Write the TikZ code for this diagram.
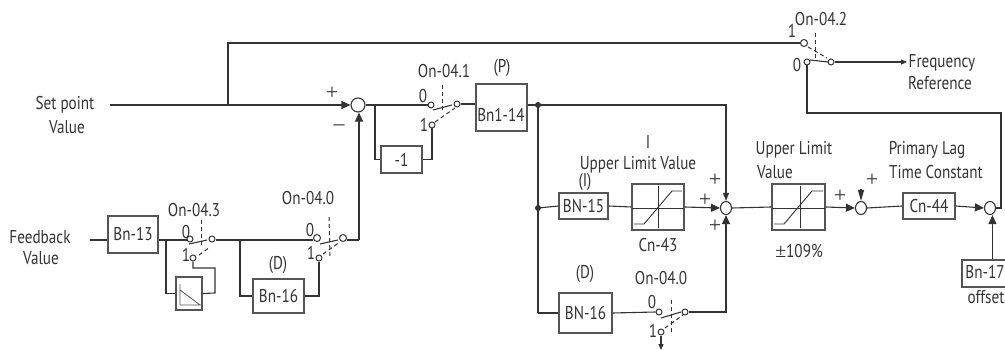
\documentclass[tikz,border=0pt]{standalone}
\usepackage{fontspec}
\setmainfont[FakeStretch=0.82]{PT Sans}
\newfontfamily\sgnfont{Liberation Serif}
\usetikzlibrary{arrows.meta,shapes.geometric,calc}
\definecolor{ink}{HTML}{333333}
\definecolor{boxc}{HTML}{555555}
\tikzset{
  wire/.style={draw=ink,line width=1.1pt},
  flow/.style={wire,-{Triangle[length=9pt,width=8pt]}},
  flowmid/.style={wire,-{Triangle[length=8pt,width=6pt]}},
  flowsmall/.style={wire,-{Triangle[length=6pt,width=5pt]}},
  blockbox/.style={draw=boxc,line width=1.1pt,fill=white,inner sep=0pt,text=ink,font=\fontsize{18.5}{18.5}\selectfont},
  contact/.style={circle,draw=ink,line width=1pt,fill=white,inner sep=0pt,minimum size=6pt},
  sumnode/.style={ellipse,draw=ink,line width=1.1pt,fill=white,inner sep=0pt,minimum width=11pt,minimum height=13pt},
  lab/.style={text=ink,inner sep=0pt,font=\fontsize{18.5}{18.5}\selectfont},
  sgn/.style={text=ink,inner sep=0pt,font=\sgnfont\fontsize{22}{22}\selectfont},
  arm/.style={draw=ink,line width=1.1pt},
  ctrl/.style={draw=ink,line width=1pt,dash pattern=on 4pt off 3pt},
  inner/.style={draw=ink,line width=0.9pt},
  innerlight/.style={draw=boxc,line width=0.8pt}
}
\begin{document}
\begin{tikzpicture}[x=1pt,y=-1pt]
\useasboundingbox (0,0) rectangle (1005,350);
\clip (0,0) rectangle (1005,350);
% labels
\node[lab] (lsp1) at (65,105) {Set point};
\node[lab] (lsp2) at (67,127) {Value};
\node[lab] (lfb1) at (40,237) {Feedback};
\node[lab] (lfb2) at (41,258) {Value};
\node[lab] (l041) at (444,71) {On-04.1};
\node[lab] (lP) at (502,68) {(P)};
\node[lab] (l043) at (194,210) {On-04.3};
\node[lab] (l040a) at (308,198) {On-04.0};
\node[lab] (lDa) at (278,265) {(D)};
\node[lab] (lI) at (648,142) {I};
\node[lab] (lulv) at (638,165) {Upper Limit Value};
\node[lab] (lIb) at (585,182) {(I)};
\node[lab] (lcn43) at (658,245) {Cn-43};
\node[lab] (lDb) at (585,274) {(D)};
\node[lab] (l040b) at (661,278) {On-04.0};
\node[lab] (lul1) at (794,150) {Upper Limit};
\node[lab] (lul2) at (775,172) {Value};
\node[lab] (lpl1) at (927,150) {Primary Lag};
\node[lab] (lpl2) at (936,172) {Time Constant};
\node[lab] (l109) at (799,251) {{\sgnfont\fontsize{20}{20}\selectfont ±}109\%};
\node[lab] (l042) at (821,19) {On-04.2};
\node[lab] (lfr1) at (942,63) {Frequency};
\node[lab] (lfr2) at (940,83) {Reference};
\node[lab] (loff) at (986,297) {offset};
% contact digits
\node[lab] (d0a) at (423,96) {0};
\node[lab] (d1a) at (424,125) {1};
\node[lab] (d0b) at (186,232) {0};
\node[lab] (d1b) at (186,255) {1};
\node[lab] (d0c) at (310,230) {0};
\node[lab] (d1c) at (311,253) {1};
\node[lab] (d0d) at (652,302) {0};
\node[lab] (d1d) at (653,331) {1};
\node[lab] (d1e) at (792,31) {1};
\node[lab] (d0e) at (797,65) {0};
% signs
\node[sgn] (p1) at (332,93) {+};
\node[sgn] (m1) at (339,128) {–};
\node[sgn] (p2) at (715,180) {+};
\node[sgn] (p3) at (705,200) {+};
\node[sgn] (p4) at (715,226) {+};
\node[sgn] (p5) at (840,196) {+};
\node[sgn] (p6) at (872,180) {+};
% blocks
\newcommand{\blk}[6]{\node[blockbox,minimum width=#4 pt-#2 pt,minimum height=#5 pt-#3 pt] (#1) at ({(#2+#4)/2},{(#3+#5)/2}) {#6};}
\blk{bn13}{108}{216}{158}{253}{Bn-13}
\blk{bn16a}{253}{279}{304}{313}{Bn-16}
\blk{neg}{381}{146}{422}{173}{-1}
\blk{bn14}{476}{84}{527}{131}{}
\node[lab] (tbn14) at (501,115) {Bn1-14};
\blk{bn15}{559}{193}{608}{219}{BN-15}
\blk{bn16b}{559}{293}{612}{333}{BN-16}
\blk{lim1}{632}{184}{684}{230}{}
\blk{lim2}{772}{184}{825}{230}{}
\blk{cn44}{903}{193}{955}{219}{Cn-44}
\blk{bn17}{962}{260}{1012}{287}{}
\node[lab] (tbn17) at (985,272) {Bn-17};
\blk{icon}{176}{277}{202}{310}{}
% sums
\node[sumnode,minimum width=14pt,minimum height=14pt] (s1) at (358,105) {};
\node[sumnode] (s2) at (726,208) {};
\node[sumnode] (s3) at (861,208) {};
\node[sumnode] (s4) at (990,208) {};
% contacts
\node[contact] (a0) at (431,105) {};
\node[contact] (a1) at (432,125) {};
\node[contact] (ac) at (457,104) {};
\node[contact] (b0) at (190,239) {};
\node[contact] (b1) at (193,258) {};
\node[contact] (bc) at (212,239) {};
\node[contact,minimum size=7pt] (c0) at (317,238) {};
\node[contact] (c1) at (319,258) {};
\node[contact,minimum size=7pt] (cc) at (343,238) {};
\node[contact] (d0) at (659,312) {};
\node[contact] (d1) at (661,332) {};
\node[contact] (dc) at (685,312) {};
\node[contact,minimum size=7pt] (e1) at (804,43) {};
\node[contact] (e0) at (807,62) {};
\node[contact] (ec) at (831,62) {};
% junctions and free ends
\coordinate (start) at (110,105);
\coordinate (jtop) at (228,105);
\coordinate (fbstart) at (90,240);
\coordinate (jb) at (166,240);
\coordinate (jc) at (240,240);
\coordinate (jd) at (359,240);
\coordinate (je) at (375,106);
\coordinate (dotb) at (538,105);
\coordinate (dotc) at (538,208);
\coordinate (outd) at (661,350);
\coordinate (frq) at (907,62);
\coordinate (retx) at (1001,113);
\coordinate (tip3) at (861,189);
\fill[ink] (dotb) circle (3pt) (dotc) circle (3pt);
% set point path
\draw[wire] (start) -- (jtop);
\draw[flow] (jtop) -- (s1.west);
\draw[wire] (jtop) |- (e1.west);
\draw[wire] (s1.east) -- (a0.west|-s1.east);
\draw[wire] (je) |- (neg.west);
\draw[wire] (neg.east) -| (a1.south);
\draw[wire] (ac.east) -- (bn14.west|-ac.east);
\draw[wire] (bn14.east|-dotb) -- (dotb);
\draw[flowmid] (dotb) -| (s2.north);
\draw[wire] (dotb) -- (dotb|-bn16b.west);
\draw[wire] (dotb|-bn16b.west) -- (bn16b.west);
\draw[wire] (dotc) -- (bn15.west);
\draw[wire] (bn15.east) -- (lim1.west);
\draw[flow] (lim1.east) -- (s2.west);
\draw[wire] (s2.east) -- (lim2.west);
\draw[flow] (lim2.east) -- (s3.west);
\draw[wire,-{Triangle[length=11pt,width=6pt]}] (tip3) -- (s3.north);
\draw[wire] (s3.east) -- (cn44.west);
\draw[flow] (cn44.east) -- (s4.west);
\draw[flow] (bn17.west|-bn17.north) ++(31,0) coordinate (o17) -- (o17|-s4.south);
\draw[wire] (s4.east) -| (retx) -| (e0.south);
% feedback path
\draw[wire] (fbstart) -- (bn13.west|-fbstart);
\draw[wire] (bn13.east|-fbstart) -- (b0.west|-fbstart);
\draw[wire] (bc.east|-jc) -- (c0.west|-jc);
\draw[wire] (cc.east|-jd) -- (jd);
\draw[flow] (jd) -- (s1.south-|jd);
\draw[wire] (jb) |- (icon.west);
\draw[wire] (icon.east) -- (215,293) -- (215,268) -| (b1.south);
\draw[wire] (jc) |- (bn16a.west);
\draw[wire] (bn16a.east) -| (c1.south);
% lower D path
\draw[wire] (bn16b.east) -- (d0.west);
\draw[flow] (dc.east) -| (s2.south);
\draw[flowsmall] (d1.south) -- (outd);
\draw[flowsmall] (ec.east) -- (frq);
% switch arms and control lines
\draw[arm] (433,110) -- (452,105);
\draw[ctrl] (442,85) -- (442,112);
\draw[ctrl] (435,122) -- (455,108);
\draw[arm] (189,244) -- (207,240);
\draw[ctrl] (201,220) -- (201,247);
\draw[ctrl] (199,255) -- (210,247);
\draw[arm] (320,244) -- (338,240);
\draw[ctrl] (329,217) -- (330,256);
\draw[ctrl] (323,254) -- (340,242);
\draw[arm] (661,318) -- (681,312);
\draw[ctrl] (671,300) -- (671,335);
\draw[ctrl] (665,328) -- (683,315);
\draw[arm] (810,60) -- (828,62);
\draw[ctrl] (815,33) -- (815,58);
\draw[ctrl] (808,47) -- (827,58);
% limiter interiors
\draw[inner] (632,208) -- (684,208) (658,186) -- (658,228);
\draw[inner] (634,224) -- (644,224) -- (672,191) -- (682,191);
\draw[inner] (772,208) -- (825,208) (800,186) -- (800,228);
\draw[inner] (774,224) -- (784,224) -- (812,191) -- (823,191);
% icon interior
\draw[innerlight] (180,284) -- (180,305) -- (202,305) (180,290) -- (200,305);
\end{tikzpicture}
\end{document}
